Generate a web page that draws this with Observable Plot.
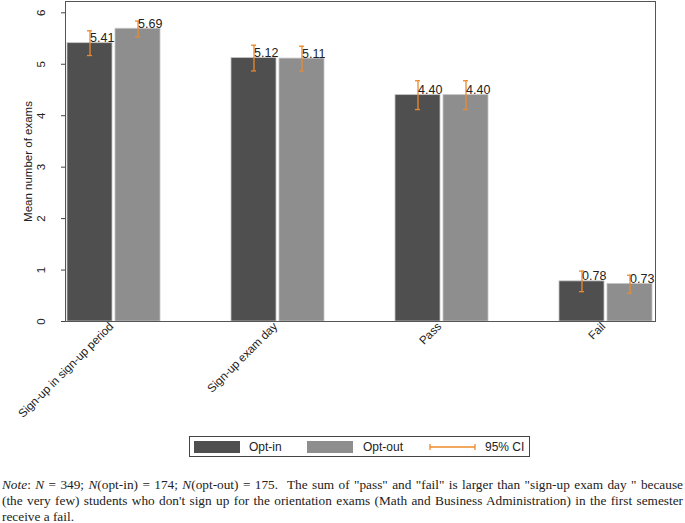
<!DOCTYPE html>
<html>
<head>
<meta charset="utf-8">
<script src="https://cdn.jsdelivr.net/npm/d3@7"></script>
<script src="https://cdn.jsdelivr.net/npm/@observablehq/plot@0.6"></script>
<style>
  body { margin: 0; background: #fff; }
  #wrap { position: relative; width: 685px; height: 523px; font-family: "Liberation Sans", Arial, sans-serif; }
  #legend { position: absolute; left: 189px; top: 436px; width: 341px; height: 21px; border: 1px solid #444; box-sizing: border-box; font-size: 12px; color: #222; }
  #legend .sw { position: absolute; top: 4px; width: 46px; height: 12px; }
  #legend .lb { position: absolute; top: 3px; line-height: 14px; }
  #note { position: absolute; left: 2px; top: 477px; width: 681px; font-family: "Liberation Serif", "Times New Roman", serif; font-size: 13.3px; line-height: 16.2px; color: #222; }
  #note div { white-space: nowrap; text-align: justify; text-align-last: justify; }
  #note div.last { text-align-last: left; }
</style>
</head>
<body>
<div id="wrap">
  <div id="chart"></div>
  <div id="legend"></div>
  <div id="note">
    <div><i>Note</i>: <i>N</i> = 349; <i>N</i>(opt-in) = 174; <i>N</i>(opt-out) = 175. &nbsp;The sum of "pass" and "fail" is larger than "sign-up exam day " because</div>
    <div>(the very few) students who don't sign up for the orientation exams (Math and Business Administration) in the first semester</div>
    <div class="last">receive a fail.</div>
  </div>
</div>
<script>
const categories = ["Sign-up in sign-up period", "Sign-up exam day", "Pass", "Fail"];
const groups = ["Opt-in", "Opt-out"];
const optIn = [5.41, 5.12, 4.40, 0.78];
const optOut = [5.69, 5.11, 4.40, 0.73];
const optInLow = [5.17, 4.87, 4.12, 0.58];
const optInHigh = [5.65, 5.37, 4.68, 0.98];
const optOutLow = [5.53, 4.87, 4.12, 0.55];
const optOutHigh = [5.84, 5.35, 4.68, 0.90];
const yTicks = [0, 1, 2, 3, 4, 5, 6];
const colors = ["#4f4f4f", "#8e8e8e"];
const ciColor = "#ee8a2a";

const rows = [];
categories.forEach((c, i) => {
  rows.push({cat: c, group: groups[0], value: optIn[i], lo: optInLow[i], hi: optInHigh[i]});
  rows.push({cat: c, group: groups[1], value: optOut[i], lo: optOutLow[i], hi: optOutHigh[i]});
});

const chart = Plot.plot({
  width: 685,
  height: 430,
  marginLeft: 52,
  marginRight: 17,
  marginTop: 1,
  marginBottom: 109,
  style: {fontFamily: "Liberation Sans, Arial, sans-serif", fontSize: "12px", color: "#222", background: "#fff"},
  fx: {domain: categories, paddingInner: 0.4, paddingOuter: 0.0667, label: null},
  x: {domain: groups, paddingInner: 0.0612, paddingOuter: 0.0408, axis: null},
  y: {domain: [0, 6.22], ticks: yTicks, label: null},
  color: {domain: groups, range: colors},
  marks: [
    Plot.barY(rows, {fx: "cat", x: "group", y: "value", fill: "group", stroke: "#c4c4c4", strokeWidth: 0.8}),
    Plot.ruleX(rows, {fx: "cat", x: "group", y1: "lo", y2: "hi", stroke: ciColor, strokeWidth: 1.3}),
    Plot.tickY(rows, {fx: "cat", x: "group", y: "lo", stroke: ciColor, strokeWidth: 1.3, insetLeft: 20, insetRight: 20}),
    Plot.tickY(rows, {fx: "cat", x: "group", y: "hi", stroke: ciColor, strokeWidth: 1.3, insetLeft: 20, insetRight: 20}),
    Plot.text(rows, {fx: "cat", x: "group", y: "value", text: d => d.value.toFixed(2), textAnchor: "start", lineAnchor: "bottom", dx: 0, dy: -1, fontSize: 12.5, fill: "#222"}),
    Plot.axisY({ticks: yTicks, tickSize: 4, text: null, stroke: "#444", label: "Mean number of exams", labelArrow: "none", labelAnchor: "center", labelOffset: 42, fontSize: 11.5}),
    Plot.text(yTicks, {fx: () => categories[0], y: d => d, text: d => String(d), frameAnchor: "left", dx: -24.5, rotate: -90, textAnchor: "middle", lineAnchor: "middle", fontSize: 11.5, fill: "#222"}),
    Plot.axisFx({anchor: "bottom", tickSize: 0, tickPadding: 3, tickRotate: -45, label: null, fontSize: 11.6, dx: -3}),
    Plot.frame({facet: "super", stroke: "#555"})
  ]
});
document.getElementById("chart").appendChild(chart);

// legend
const legend = document.getElementById("legend");
const items = [
  {type: "swatch", color: colors[0], left: 4, label: groups[0], labelLeft: 59},
  {type: "swatch", color: colors[1], left: 117, label: groups[1], labelLeft: 173},
  {type: "ci", left: 239, label: "95% CI", labelLeft: 295}
];
items.forEach(it => {
  if (it.type === "swatch") {
    const s = document.createElement("div");
    s.className = "sw"; s.style.left = it.left + "px"; s.style.background = it.color;
    legend.appendChild(s);
  } else {
    const ns = "http://www.w3.org/2000/svg";
    const svg = document.createElementNS(ns, "svg");
    svg.setAttribute("width", 48); svg.setAttribute("height", 12);
    svg.style.position = "absolute"; svg.style.left = it.left + "px"; svg.style.top = "4px";
    const mk = (x1, y1, x2, y2) => { const l = document.createElementNS(ns, "line"); l.setAttribute("x1", x1); l.setAttribute("y1", y1); l.setAttribute("x2", x2); l.setAttribute("y2", y2); l.setAttribute("stroke", ciColor); l.setAttribute("stroke-width", 1.3); svg.appendChild(l); };
    mk(1, 6, 46, 6); mk(1, 3, 1, 9); mk(46, 3, 46, 9);
    legend.appendChild(svg);
  }
  const t = document.createElement("div");
  t.className = "lb"; t.style.left = it.labelLeft + "px"; t.textContent = it.label;
  legend.appendChild(t);
});
</script>
</body>
</html>
